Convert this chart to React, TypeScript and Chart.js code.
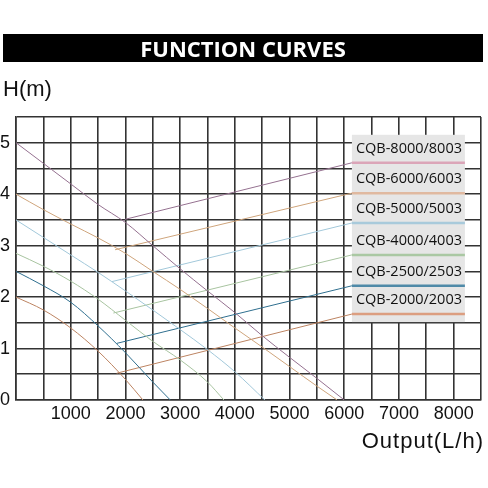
import React, { useEffect, useRef } from "react";
import { Chart, registerables } from "chart.js";

Chart.register(...registerables);

// ---- data ----
const seriesLabels = [
  "CQB-8000/8003",
  "CQB-6000/6003",
  "CQB-5000/5003",
  "CQB-4000/4003",
  "CQB-2500/2503",
  "CQB-2000/2003",
];

const cqb8000Flow = [0, 500, 1000, 1500, 2000, 2500, 3000, 3500, 4000, 4500, 5000, 5500, 6000];
const cqb8000Head = [5.0, 4.6, 4.2, 3.8, 3.45, 3.0, 2.55, 2.12, 1.7, 1.25, 0.83, 0.42, 0];

const cqb6000Flow = [0, 500, 1000, 1500, 2000, 2500, 3000, 3500, 4000, 4500, 5000, 5500, 5870];
const cqb6000Head = [4.0, 3.7, 3.42, 3.15, 2.85, 2.5, 2.15, 1.78, 1.4, 1.03, 0.65, 0.27, 0];

const cqb5000Flow = [0, 500, 1000, 1500, 2000, 2500, 3000, 3500, 4000, 4550];
const cqb5000Head = [3.5, 3.16, 2.82, 2.48, 2.12, 1.75, 1.37, 0.98, 0.55, 0];

const cqb4000Flow = [0, 500, 1000, 1500, 2000, 2500, 3000, 3500, 3800];
const cqb4000Head = [2.85, 2.6, 2.31, 1.96, 1.55, 1.14, 0.78, 0.35, 0];

const cqb2500Flow = [0, 500, 1000, 1500, 2000, 2500, 2820];
const cqb2500Head = [2.5, 2.22, 1.9, 1.44, 0.92, 0.35, 0];

const cqb2000Flow = [0, 500, 1000, 1500, 2000, 2320];
const cqb2000Head = [2.0, 1.75, 1.4, 0.95, 0.4, 0];

// leader lines from each curve to its legend entry
const leaderStartFlow = [1990, 1810, 1750, 1780, 1840, 1840];
const leaderStartHead = [3.51, 2.92, 2.3, 1.69, 1.1, 0.52];
const leaderEndFlow = [6140, 6140, 6140, 6140, 6140, 6140];
const leaderEndHead = [4.61, 4.02, 3.44, 2.82, 2.22, 1.67];

const curveColors = ["#957190", "#cfa57c", "#a2c8da", "#a8c4a0", "#2f6f8f", "#bd8462"];
const legendColors = ["#dba5b8", "#e0b9a0", "#a8cadb", "#aac8a3", "#4f8aa8", "#dc9e80"];

const xMax = 8500;
const yMax = 5.5;

const flows = [cqb8000Flow, cqb6000Flow, cqb5000Flow, cqb4000Flow, cqb2500Flow, cqb2000Flow];
const heads = [cqb8000Head, cqb6000Head, cqb5000Head, cqb4000Head, cqb2500Head, cqb2000Head];

const legendPlugin = {
  id: "boxLegend",
  afterDatasetsDraw(chart: any) {
    const { ctx, scales } = chart;
    const xs = scales.x;
    const ys = scales.y;
    const left = xs.getPixelForValue(leaderEndFlow[0]);
    const width = 113;
    const lineYs = leaderEndHead.map((h) => ys.getPixelForValue(h));
    const top = lineYs[0] - 28;
    const bottom = lineYs[lineYs.length - 1] + 8;
    ctx.save();
    ctx.fillStyle = "#e6e6e6";
    ctx.fillRect(left, top, width, bottom - top);
    ctx.font = '14.5px "Open Sans"';
    ctx.textBaseline = "middle";
    ctx.textAlign = "left";
    seriesLabels.forEach((label, i) => {
      const ly = lineYs[i];
      ctx.fillStyle = "#111";
      ctx.fillText(label, left + 4, ly - 14);
      ctx.strokeStyle = legendColors[i];
      ctx.lineWidth = 2.5;
      ctx.beginPath();
      ctx.moveTo(left, ly);
      ctx.lineTo(left + width, ly);
      ctx.stroke();
    });
    ctx.restore();
  },
};

export default function App() {
  const canvasRef = useRef<HTMLCanvasElement | null>(null);

  useEffect(() => {
    if (!canvasRef.current) return;
    const datasets: any[] = [];
    seriesLabels.forEach((label, i) => {
      datasets.push({
        label,
        data: flows[i].map((x, k) => ({ x, y: heads[i][k] })),
        borderColor: curveColors[i],
        borderWidth: 1,
        pointRadius: 0,
        cubicInterpolationMode: "monotone",
        fill: false,
      });
      datasets.push({
        label: label + " leader",
        data: [
          { x: leaderStartFlow[i], y: leaderStartHead[i] },
          { x: leaderEndFlow[i], y: leaderEndHead[i] },
        ],
        borderColor: curveColors[i],
        borderWidth: 1,
        pointRadius: 0,
        fill: false,
      });
    });

    const chart = new Chart(canvasRef.current, {
      type: "line",
      data: { datasets },
      plugins: [legendPlugin],
      options: {
        animation: false,
        responsive: false,
        devicePixelRatio: 1,
        layout: { padding: { top: 117, right: 7, left: 0, bottom: 0 } },
        plugins: { legend: { display: false }, tooltip: { enabled: false }, title: { display: false } },
        scales: {
          x: {
            type: "linear",
            min: 0,
            max: xMax,
            afterFit: (s: any) => {
              s.height = 88;
            },
            grid: { color: "#333333", lineWidth: 1.6, drawTicks: false },
            border: { color: "#333333", width: 1.6 },
            ticks: {
              stepSize: 500,
              padding: 3,
              color: "#111",
              font: { family: '"Liberation Sans", Arial', size: 18 },
              maxRotation: 0,
              autoSkip: false,
              callback: (v: any) => (v % 1000 === 0 && v > 0 && v < xMax ? String(v) : ""),
            },
          },
          y: {
            type: "linear",
            min: 0,
            max: yMax,
            afterFit: (s: any) => {
              s.width = 16;
            },
            grid: { color: "#333333", lineWidth: 1.6, drawTicks: false },
            border: { color: "#333333", width: 1.6 },
            ticks: {
              stepSize: 0.5,
              padding: 6,
              color: "#111",
              font: { family: '"Liberation Sans", Arial', size: 18 },
              autoSkip: false,
              callback: (v: any) => (Number.isInteger(v) ? String(v) : ""),
            },
          },
        },
      },
    });
    return () => chart.destroy();
  }, []);

  return (
    <div
      style={{
        position: "fixed",
        left: 0,
        top: 0,
        width: 488,
        height: 488,
        background: "#fff",
        overflow: "hidden",
      }}
    >
      <canvas ref={canvasRef} width={488} height={488} style={{ position: "absolute", left: 0, top: 0, width: 488, height: 488 }} />
      <div
        style={{
          position: "absolute",
          left: 3,
          top: 34,
          width: 480,
          height: 28,
          background: "#000",
          color: "#fff",
          fontFamily: '"Open Sans", sans-serif',
          fontWeight: 700,
          fontSize: 22,
          lineHeight: "28px",
          textAlign: "center",
        }}
      >
        FUNCTION CURVES
      </div>
      <div
        style={{
          position: "absolute",
          left: 3,
          top: 78,
          fontFamily: '"Liberation Sans", Arial, sans-serif',
          fontSize: 22,
          lineHeight: "22px",
          color: "#111",
        }}
      >
        H(m)
      </div>
      <div
        style={{
          position: "absolute",
          right: 4,
          top: 430,
          fontFamily: '"Liberation Sans", Arial, sans-serif',
          fontSize: 22,
          lineHeight: "22px",
          letterSpacing: "1px",
          color: "#111",
        }}
      >
        Output(L/h)
      </div>
    </div>
  );
}
